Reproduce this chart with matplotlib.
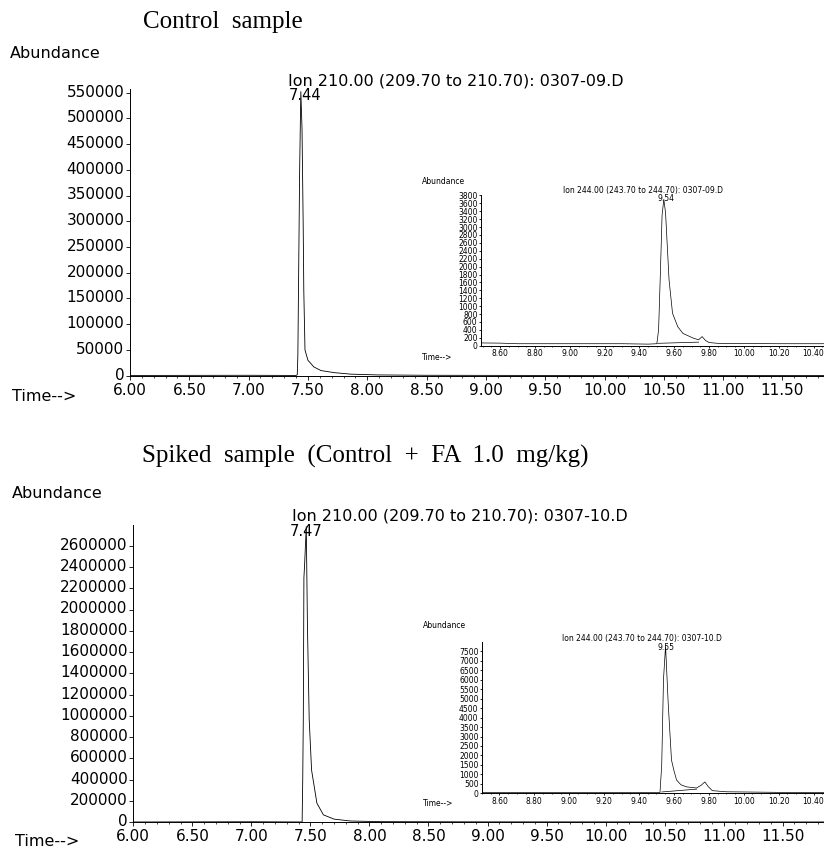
import matplotlib.pyplot as plt
import matplotlib.transforms as mtransforms
from matplotlib.ticker import MultipleLocator, FormatStrFormatter

# ---- data ----
# control sample, ion 210
t_ctrl = [6.00, 7.00, 7.40, 7.41, 7.415, 7.43, 7.44, 7.45, 7.46, 7.465, 7.475,
          7.50, 7.55, 7.61, 7.72, 7.86, 8.09, 8.50, 9.50, 11.85]
a_ctrl = [500, 800, 500, 2000, 40000, 400000, 552000, 480000, 290000, 165000, 50000,
          30000, 17000, 10000, 6000, 3000, 1500, 800, 500, 300]
# control sample, ion 244 (inset)
t_ctrl_244 = [8.49, 8.60, 8.70, 9.00, 9.30, 9.45, 9.50, 9.51, 9.52, 9.53, 9.54, 9.55,
              9.57, 9.59, 9.62, 9.65, 9.71, 9.74, 9.76, 9.78, 9.80, 9.85, 10.00, 10.20, 10.46]
a_ctrl_244 = [70, 65, 50, 50, 50, 40, 50, 400, 1800, 3300, 3700, 3360,
              1670, 820, 480, 310, 190, 150, 230, 130, 80, 60, 55, 50, 50]
t_ctrl_base = [9.505, 9.74]
a_ctrl_base = [60, 90]

# spiked sample, ion 210
t_spk = [6.00, 7.00, 7.43, 7.435, 7.44, 7.445, 7.45, 7.465, 7.475, 7.49, 7.51,
         7.555, 7.61, 7.70, 7.84, 8.10, 9.00, 11.85]
a_spk = [3000, 5000, 3000, 400000, 1000000, 2300000, 2400000, 2780000, 1840000, 960000, 490000,
         180000, 70000, 30000, 12000, 6000, 4000, 3000]
# spiked sample, ion 244 (inset)
t_spk_244 = [8.50, 8.60, 9.00, 9.40, 9.52, 9.53, 9.54, 9.552, 9.567, 9.586, 9.60, 9.615,
             9.64, 9.672, 9.73, 9.758, 9.777, 9.797, 9.82, 9.90, 10.00, 10.20, 10.46]
a_spk_244 = [50, 40, 40, 40, 40, 1500, 6000, 7800, 4770, 1755, 1200, 700,
             450, 340, 280, 440, 600, 350, 140, 80, 70, 50, 40]
t_spk_base = [9.53, 9.73]
a_spk_base = [70, 220]

W, H = 824, 848
fig = plt.figure(figsize=(W / 100, H / 100), dpi=100)


def fx(px):
    return px / W


def fy(py):
    return 1 - py / H


def rect(left, top, right, bottom):
    return [fx(left), fy(bottom), fx(right) - fx(left), (bottom - top) / H]


def style_axes(ax, size, ylen, xmaj, xmin, ystep, xpad=1):
    ax.set_facecolor('none')
    ax.spines[['top', 'right']].set_visible(False)
    for s in ['left', 'bottom']:
        ax.spines[s].set_linewidth(0.7)
    ax.xaxis.set_major_locator(MultipleLocator(xmaj))
    ax.xaxis.set_minor_locator(MultipleLocator(xmin))
    ax.xaxis.set_major_formatter(FormatStrFormatter('%.2f'))
    ax.yaxis.set_major_locator(MultipleLocator(ystep))
    ax.yaxis.set_major_formatter(FormatStrFormatter('%d'))
    ax.tick_params(axis='both', which='major', labelsize=size, length=ylen, width=0.6,
                   pad=1, direction='out')
    ax.tick_params(axis='x', which='major', pad=xpad)
    ax.tick_params(axis='x', which='minor', length=ylen * 0.5, width=0.5)
    ax.tick_params(axis='y', which='minor', length=0)


def lift_ylabels(ax, pts):
    # nudge y tick labels up a little so "0" clears the first x label
    off = mtransforms.ScaledTranslation(0, pts / 72, fig.dpi_scale_trans)
    for t in ax.get_yticklabels():
        t.set_transform(t.get_transform() + off)


lab = 11
peak = 10.5
small = 5.5
serif = 'Liberation Serif'

# ---------------- control sample ----------------
ax1 = fig.add_axes(rect(130, 89, W, 375.7))
ax1.plot(t_ctrl, a_ctrl, color='k', lw=0.6)
ax1.set_xlim(6.0, 11.85)
ax1.set_ylim(0, 557000)
style_axes(ax1, lab, 3, 0.5, 0.1, 50000, xpad=2)
lift_ylabels(ax1, 1.5)
tr1 = mtransforms.blended_transform_factory(ax1.transData, ax1.transAxes)
ax1.text(7.474, 0.978, '7.44', transform=tr1, ha='center', va='center', fontsize=peak)

fig.text(fx(143), fy(28), 'Control  sample', family=serif, fontsize=18, va='baseline')
fig.text(fx(10), fy(54), 'Abundance', fontsize=11.5, va='center')
fig.text(fx(12), fy(396), 'Time-->', fontsize=11.5, va='center')
fig.text(fx(288), fy(81), 'Ion 210.00 (209.70 to 210.70): 0307-09.D', fontsize=11.5, va='center')

ins1 = fig.add_axes(rect(481, 195, W, 345.7))
ins1.plot(t_ctrl_244, a_ctrl_244, color='k', lw=0.5)
ins1.plot(t_ctrl_base, a_ctrl_base, color='k', lw=0.5)
ins1.set_xlim(8.49, 10.46)
ins1.set_ylim(0, 3810)
style_axes(ins1, small, 1.5, 0.2, 0.05, 200)
tri1 = mtransforms.blended_transform_factory(ins1.transData, ins1.transAxes)
ins1.text(9.55, 0.975, '9.54', transform=tri1, ha='center', va='center', fontsize=small)
fig.text(fx(422), fy(182), 'Abundance', fontsize=small, va='center')
fig.text(fx(422), fy(358), 'Time-->', fontsize=small, va='center')
fig.text(fx(563), fy(190), 'Ion 244.00 (243.70 to 244.70): 0307-09.D', fontsize=small, va='center')

# ---------------- spiked sample ----------------
ax2 = fig.add_axes(rect(133.3, 525, W, 822.3))
ax2.plot(t_spk, a_spk, color='k', lw=0.6)
ax2.set_xlim(6.0, 11.85)
ax2.set_ylim(0, 2795000)
style_axes(ax2, lab, 3, 0.5, 0.1, 200000, xpad=2)
lift_ylabels(ax2, 1.5)
tr2 = mtransforms.blended_transform_factory(ax2.transData, ax2.transAxes)
ax2.text(7.468, 0.978, '7.47', transform=tr2, ha='center', va='center', fontsize=peak)

fig.text(fx(142), fy(463), 'Spiked  sample  (Control  +  FA  1.0  mg/kg)', family=serif,
         fontsize=18, va='baseline')
fig.text(fx(12), fy(493), 'Abundance', fontsize=11.5, va='center')
fig.text(fx(15), fy(842), 'Time-->', fontsize=11.5, va='center')
fig.text(fx(292), fy(516), 'Ion 210.00 (209.70 to 210.70): 0307-10.D', fontsize=11.5, va='center')

ins2 = fig.add_axes(rect(482, 642, W, 793.3))
ins2.plot(t_spk_244, a_spk_244, color='k', lw=0.5)
ins2.plot(t_spk_base, a_spk_base, color='k', lw=0.5)
ins2.set_xlim(8.50, 10.46)
ins2.set_ylim(0, 7995)
style_axes(ins2, small, 1.5, 0.2, 0.05, 500)
tri2 = mtransforms.blended_transform_factory(ins2.transData, ins2.transAxes)
ins2.text(9.555, 0.965, '9.55', transform=tri2, ha='center', va='center', fontsize=small)
fig.text(fx(423), fy(626), 'Abundance', fontsize=small, va='center')
fig.text(fx(423), fy(803), 'Time-->', fontsize=small, va='center')
fig.text(fx(562), fy(639), 'Ion 244.00 (243.70 to 244.70): 0307-10.D', fontsize=small, va='center')

fig.savefig('out.png', dpi=100)
